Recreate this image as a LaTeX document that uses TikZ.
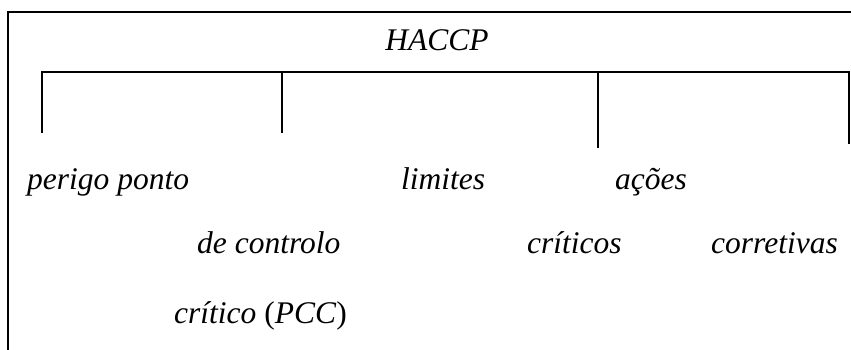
\documentclass[tikz,border=0pt]{standalone}
\usepackage{fontspec}
\setmainfont{Liberation Serif}
\begin{document}
\begin{tikzpicture}[x=1pt,y=-1pt,
  rule/.style={line width=1.8pt},
  label/.style={inner sep=0pt,anchor=base west,font=\fontsize{31.5}{37}\selectfont\itshape}]
\useasboundingbox (0,0) rectangle (851,350);
% outer frame: top and left sides
\coordinate (fl) at (8,12);
\coordinate (fr) at (851,12);
\coordinate (fb) at (8,350);
\draw[rule] (fb) -- (fl) -- (fr);
% title
\node[label,anchor=base] (haccp) at (437,51) {HACCP};
% bracket below the title
\coordinate (b1) at (42,72);
\coordinate (b2) at (282,72);
\coordinate (b3) at (598,72);
\coordinate (b4) at (849,72);
\coordinate (e1) at (42,133);
\coordinate (e2) at (282,133);
\coordinate (e3) at (598,148);
\coordinate (e4) at (849,144);
\draw[rule] (e1) -- (b1) -- (b4) -- (e4);
\draw[rule] (b2) -- (e2);
\draw[rule] (b3) -- (e3);
% terms
\node[label] (perigo) at (27,189) {perigo ponto};
\node[label] (limites) at (401,189) {limites};
\node[label] (acoes) at (615,189) {ações};
\node[label] (controlo) at (197,253) {de controlo};
\node[label] (criticos) at (527,253) {críticos};
\node[label] (corretivas) at (711,253) {corretivas};
\node[label] (pcc) at (174,323) {crítico \textup{(}PCC\textup{)}};
\end{tikzpicture}
\end{document}
